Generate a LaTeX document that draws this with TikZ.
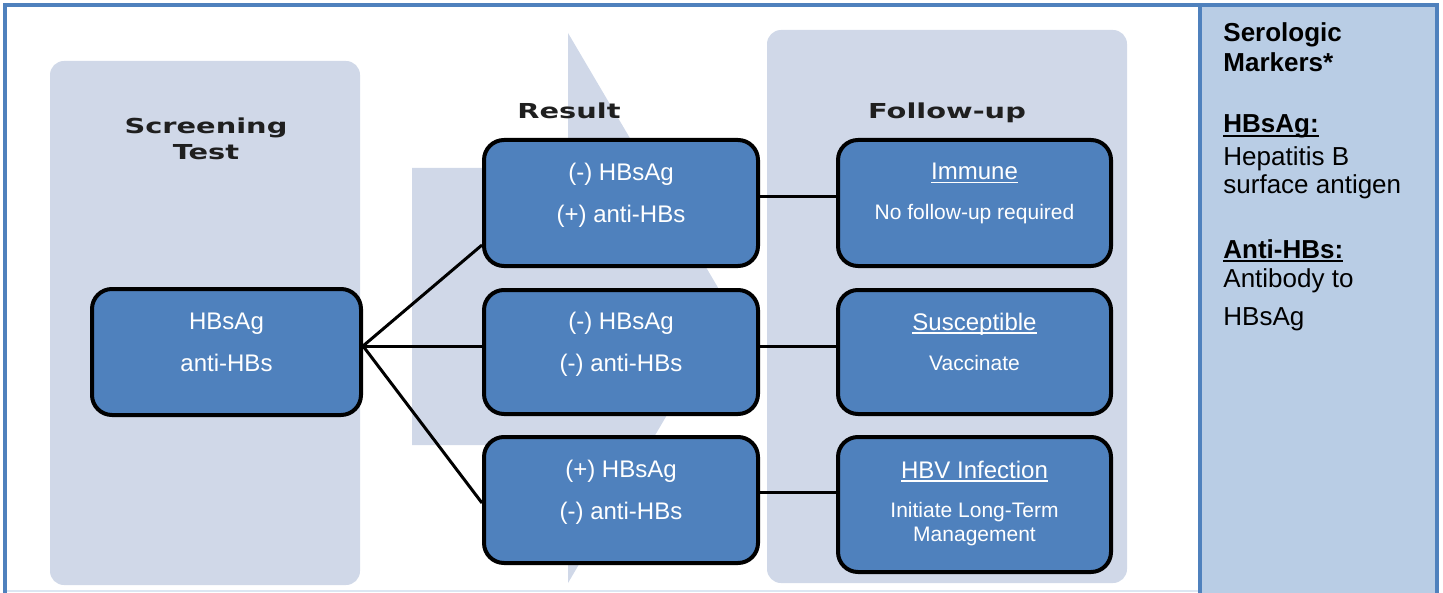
\documentclass[tikz,border=0pt]{standalone}
\usepackage{fontspec}
\setmainfont{Liberation Sans}
\newfontfamily\headfont{DejaVu Sans}[FakeStretch=1.4]
\definecolor{boxblue}{HTML}{4F81BD}
\definecolor{panelgray}{HTML}{D0D8E8}
\definecolor{sidefill}{HTML}{B9CDE5}
\definecolor{framelt}{HTML}{DCE6F2}
\definecolor{headgray}{HTML}{1F1F1F}
\newsavebox\ulbox
\newcommand{\markul}[1]{\sbox\ulbox{#1}\rlap{\rule[-1.8pt]{\wd\ulbox}{0.7pt}}\usebox\ulbox}
\newcommand{\smalltxt}{\fontsize{10.5}{12}\selectfont}

\begin{document}
\begin{tikzpicture}[x=0.5pt,y=-0.5pt,
  header/.style={font=\headfont\bfseries\fontsize{10.3}{13}\selectfont,text=headgray,align=center},
  testbox/.style={draw=black,line width=2pt,fill=boxblue,rounded corners=10pt,text=white,align=center,inner sep=0pt},
  resbox/.style={testbox,minimum width=137pt,minimum height=63pt,font=\fontsize{12}{21}\selectfont,text depth=10pt},
  folbox/.style={testbox,minimum width=136.5pt,font=\fontsize{12}{12}\selectfont},
  side/.style={anchor=base west,inner sep=0pt,font=\fontsize{13}{15}\selectfont},
  link/.style={line width=1.5pt}]
\useasboundingbox (0,0) rectangle (1443,593);

\fill[panelgray] (412,168) -- (568,168) -- (568,33) -- (730,308) -- (568,583) -- (568,445) -- (412,445) -- cycle;
\fill[panelgray,rounded corners=7pt] (50,61) rectangle (360,585);
\fill[panelgray,rounded corners=7pt] (767,30) rectangle (1127,583);

\draw[framelt,line width=1pt] (5,591) -- (1199,591);
\draw[boxblue,line width=2pt] (5,593) -- (5,5) -- (1199,5);
\filldraw[fill=sidefill,draw=boxblue,line width=2pt] (1200,5) rectangle (1437,600);

\node[header] (scrhead) at (206,139) {Screening\\Test};
\node[header,anchor=base] (reshead) at (569,119) {Result};
\node[header,anchor=base] (folhead) at (947,119) {Follow-up};

\node[resbox,minimum width=134.5pt] (scr) at (226.5,352) {HBsAg\\anti-HBs};

\node[resbox] (res1) at (621,203) {(-) HBsAg\\(+) anti-HBs};
\node[resbox,minimum height=62pt] (res2) at (621,352) {(-) HBsAg\\(-) anti-HBs};
\node[resbox] (res3) at (621,500) {(+) HBsAg\\(-) anti-HBs};

\node[folbox,minimum height=63pt,text depth=11.6pt] (fol1) at (974.5,203)
  {\markul{Immune}\\[8pt]{\smalltxt No follow-up required}};
\node[folbox,minimum height=62pt,text depth=10.6pt] (fol2) at (974.5,352)
  {\markul{Susceptible}\\[8pt]{\smalltxt Vaccinate}};
\node[folbox,minimum height=67.5pt,text depth=3.6pt] (fol3) at (974.5,504.5)
  {\markul{HBV Infection}\\[7.5pt]{\smalltxt Initiate Long-Term}\\{\smalltxt Management}};

\draw[link] ([yshift=3pt]scr.east) -- ([yshift=-21pt]res1.west);
\draw[link] ([yshift=3pt]scr.east) -- ([yshift=3pt]res2.west);
\draw[link] ([yshift=3pt]scr.east) -- ([yshift=-1.5pt]res3.west);
\draw[link] ([yshift=3pt]res1.east) -- ([yshift=3pt]fol1.west);
\draw[link] ([yshift=3pt]res2.east) -- ([yshift=3pt]fol2.west);
\draw[link] ([yshift=4pt]res3.east) -- ([yshift=4pt]res3.east -| fol3.west);

\node[side,font=\fontsize{13}{15}\selectfont\bfseries] (serol) at (1223,42) {Serologic};
\node[side,font=\fontsize{13}{15}\selectfont\bfseries] (markers) at (1223,72) {Markers*};
\node[side] (keyag) at (1223,133) {\markul{\textbf{HBsAg:}}};
\node[side] (agdef1) at (1223,166) {Hepatitis B};
\node[side] (agdef2) at (1223,194) {surface antigen};
\node[side] (keyab) at (1223,258) {\markul{\textbf{Anti-HBs:}}};
\node[side] (abdef1) at (1223,287) {Antibody to};
\node[side] (abdef2) at (1223,325) {HBsAg};
\end{tikzpicture}
\end{document}
